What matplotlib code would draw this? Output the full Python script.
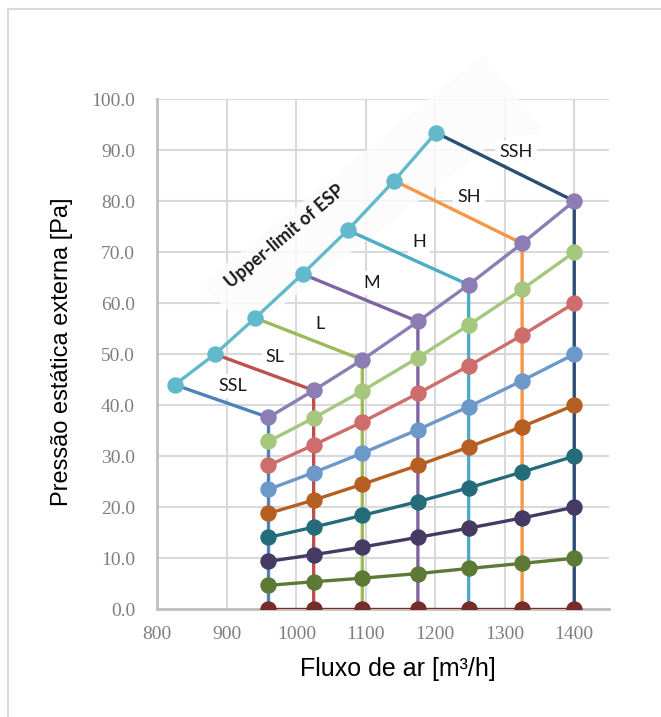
import matplotlib
matplotlib.use("Agg")
import matplotlib.pyplot as plt
from matplotlib.patches import Polygon, Rectangle

# fan speeds (vertical lines) and their air flow
speeds = ["SSL", "SL", "L", "M", "H", "SH", "SSH"]
flow = [960, 1025, 1095, 1175, 1248, 1325, 1400]

# upper limit of ESP for each speed
ul_flow = [825, 883, 941, 1009, 1074, 1141, 1201]
ul_esp = [44.0, 50.0, 57.1, 65.7, 74.3, 84.0, 93.4]

# system curves (rows), pressure at each flow
row80 = [37.6, 42.9, 48.9, 56.4, 63.6, 71.7, 80.0]
row70 = [32.9, 37.5, 42.8, 49.3, 55.7, 62.7, 70.0]
row60 = [28.2, 32.2, 36.7, 42.3, 47.7, 53.7, 60.0]
row50 = [23.5, 26.8, 30.6, 35.2, 39.7, 44.8, 50.0]
row40 = [18.8, 21.4, 24.5, 28.2, 31.8, 35.8, 40.0]
row30 = [14.1, 16.1, 18.4, 21.1, 23.8, 26.9, 30.0]
row20 = [9.4, 10.7, 12.2, 14.1, 15.9, 17.9, 20.0]
row10 = [4.7, 5.4, 6.1, 7.0, 8.0, 9.0, 10.0]
row0 = [0.0, 0.0, 0.0, 0.0, 0.0, 0.0, 0.0]

xticks = [800, 900, 1000, 1100, 1200, 1300, 1400]
yticks = [0, 10, 20, 30, 40, 50, 60, 70, 80, 90, 100]

speed_colors = ["#4F81BD", "#C0504D", "#9BBB59", "#8064A2", "#4BACC6", "#F79646", "#2C4D75"]
rows = [row0, row10, row20, row30, row40, row50, row60, row70, row80]
row_colors = ["#772C2A", "#5C7A36", "#453A63", "#256C7B", "#B65F22",
              "#6C98CA", "#CD6E6C", "#A5C77E", "#8C7DB5"]
ul_color = "#63B9CC"

W, H = 661, 717
fig = plt.figure(figsize=(W / 100, H / 100), dpi=100)
ax = fig.add_axes([157.3 / W, 1 - 609.3 / H, (609 - 157.3) / W, (609.3 - 99) / H])

# chart border (only left and top visible)
fig.add_artist(Rectangle((8 / W, -0.1), 1.0, 1 - 9 / H + 0.1, transform=fig.transFigure,
                         fill=False, edgecolor="#D9D9D9", lw=1.5))

# faint background arrow (washes out the grid behind the label)
arrow_px = [(200, 285), (483, 55), (545, 133), (500, 138), (250, 330)]
arrow_ax = [((x - 157.3) / (609 - 157.3), (609.3 - y) / (609.3 - 99)) for x, y in arrow_px]
ax.add_patch(Polygon(arrow_ax, closed=True, transform=ax.transAxes, facecolor="#FCFCFC",
                     edgecolor="none", alpha=0.85, zorder=1.5, clip_on=False))

lw = 2.4
ms = 10.8
for i, name in enumerate(speeds):
    ax.plot([ul_flow[i], flow[i], flow[i]], [ul_esp[i], row80[i], 0],
            color=speed_colors[i], lw=lw, zorder=3)

for vals, c in zip(rows, row_colors):
    ax.plot(flow, vals, color=c, lw=lw, marker="o", ms=ms, zorder=4)

ax.plot(ul_flow, ul_esp, color=ul_color, lw=lw, marker="o", ms=ms, zorder=5)

# speed labels above each connector
for i, name in enumerate(speeds):
    mx = (ul_flow[i] + flow[i]) / 2
    my = (ul_esp[i] + row80[i]) / 2
    ax.annotate(name, (mx, my), xytext=(11, 15), textcoords="offset pixels",
                ha="center", va="center", fontsize=13, family="Lato", color="#1A1A1A",
                bbox=dict(facecolor="white", edgecolor="none", pad=3), zorder=2.5)

ax.text(285, H - 236, "Upper-limit of ESP", transform=None, rotation=40, ha="center",
        va="center", fontsize=13, family="Lato", fontweight="bold", color="#1A1A1A", zorder=6)

ax.set_xlim(800, 1450)
ax.set_ylim(0, 100)
ax.set_xticks(xticks)
ax.set_yticks(yticks)
ax.set_yticklabels([f"{v:.1f}" for v in yticks])
ax.grid(True, color="#D9D9D9", lw=1.5, zorder=1)
ax.set_axisbelow(True)
for s in ["top", "right"]:
    ax.spines[s].set_visible(False)
for s in ["left", "bottom"]:
    ax.spines[s].set_color("#BFBFBF")
    ax.spines[s].set_linewidth(2)
ax.tick_params(length=0, labelsize=14, labelcolor="#7F7F7F")
ax.tick_params(axis="y", pad=16)
ax.tick_params(axis="x", pad=12)
for lab in ax.get_xticklabels() + ax.get_yticklabels():
    lab.set_family("Liberation Serif")

fig.text(62 / W, 1 - 352 / H, "Pressão estática externa [Pa]", rotation=90, ha="center",
         va="center", fontsize=17, family="Liberation Sans")
fig.text(398 / W, 1 - 669 / H, "Fluxo de ar [m³/h]", ha="center", va="center",
         fontsize=18, family="Liberation Sans")

fig.savefig("out.png", dpi=100)
